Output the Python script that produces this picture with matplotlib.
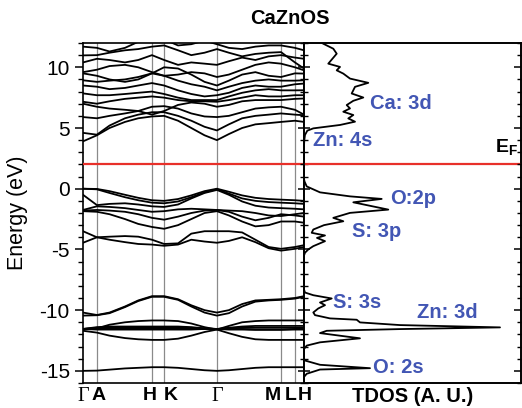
import matplotlib
matplotlib.use("Agg")
import matplotlib.pyplot as plt
import matplotlib.transforms as mtransforms
from matplotlib.ticker import MultipleLocator

plt.rcParams["font.family"] = ["Liberation Sans", "DejaVu Sans"]
plt.rcParams["axes.unicode_minus"] = False
plt.rcParams["mathtext.fontset"] = "custom"
plt.rcParams["mathtext.bf"] = "Liberation Sans:bold"
plt.rcParams["mathtext.rm"] = "Liberation Sans"

# ---------------- data ----------------
kpath = [0, 0.063, 0.12, 0.19, 0.25, 0.312, 0.367, 0.43, 0.49, 0.55,
         0.606, 0.66, 0.72, 0.78, 0.84, 0.896, 0.959, 1.0]
sym_pos = [0, 0.063, 0.312, 0.367, 0.606, 0.896, 0.959, 1.0]
sym_labels = ["Γ", "A", "H", "K", "Γ", "M", "L", "H"]

valence_bands = [
    [0.0, -0.02, -0.2, -0.5, -0.75, -0.95, -1.0, -0.85, -0.55, -0.2, 0.0, -0.25, -0.55, -0.75, -0.85, -0.9, -0.95, -1.0],
    [0.0, -0.05, -0.35, -0.7, -0.95, -1.15, -1.2, -1.05, -0.7, -0.3, -0.05, -0.4, -0.8, -1.0, -1.1, -1.15, -1.2, -1.25],
    [-0.5, -1.35, -1.25, -1.2, -1.3, -1.45, -1.5, -1.3, -0.8, -0.35, -0.1, -0.5, -1.05, -1.4, -1.55, -1.6, -1.65, -1.7],
    [-1.75, -1.45, -1.5, -1.6, -1.75, -1.9, -1.85, -1.7, -1.65, -1.7, -1.75, -1.8, -1.85, -2.0, -2.2, -2.25, -2.1, -2.0],
    [-1.8, -1.75, -1.8, -1.9, -2.1, -2.4, -2.55, -2.3, -2.0, -1.8, -1.75, -1.9, -2.3, -2.6, -2.4, -2.1, -2.2, -2.3],
    [-1.85, -1.9, -2.1, -2.5, -2.9, -3.15, -3.3, -3.0, -2.5, -2.0, -1.85, -2.2, -2.7, -3.1, -3.0, -2.7, -2.7, -2.8],
    [-3.5, -4.0, -3.95, -3.9, -3.95, -4.2, -4.55, -4.5, -3.7, -3.5, -3.5, -3.5, -3.6, -4.2, -4.8, -4.95, -4.8, -4.65],
    [-4.45, -4.0, -4.2, -4.4, -4.55, -4.6, -4.7, -4.6, -4.2, -4.35, -4.45, -4.3, -4.0, -4.4, -4.9, -5.1, -4.95, -4.8],
]

conduction_bands = [
    [3.9, 4.4, 5.0, 5.5, 5.8, 5.95, 6.0, 5.6, 5.0, 4.4, 4.0, 4.5, 5.0, 5.3, 5.4, 5.5, 5.6, 5.5],
    [4.6, 4.45, 5.2, 5.8, 6.1, 6.3, 6.3, 6.0, 5.6, 5.1, 4.8, 5.3, 5.8, 6.0, 6.1, 6.2, 6.1, 6.05],
    [5.9, 5.8, 6.0, 6.2, 6.4, 6.75, 6.8, 6.6, 6.2, 5.95, 5.9, 6.0, 6.3, 6.6, 6.7, 6.75, 6.5, 6.1],
    [7.0, 6.75, 6.6, 6.5, 6.4, 6.1, 6.4, 6.9, 7.1, 7.0, 6.75, 6.9, 7.2, 7.3, 7.3, 7.3, 7.4, 7.43],
    [7.16, 7.0, 7.2, 7.4, 7.5, 7.6, 7.5, 7.3, 7.2, 7.2, 7.16, 7.3, 7.5, 7.7, 7.6, 7.6, 7.7, 7.7],
    [7.85, 7.7, 7.7, 7.8, 7.9, 8.0, 7.8, 7.5, 7.3, 7.3, 7.3, 7.6, 7.9, 8.1, 8.2, 8.1, 8.1, 8.11],
    [8.5, 8.4, 8.2, 8.3, 8.5, 8.7, 8.5, 8.1, 7.8, 7.6, 7.7, 7.9, 8.3, 8.5, 8.4, 8.4, 8.6, 8.66],
    [8.93, 8.8, 8.9, 9.0, 9.2, 9.5, 9.3, 8.9, 8.6, 8.4, 8.1, 8.4, 8.7, 8.9, 9.0, 8.9, 8.9, 8.93],
    [9.5, 9.3, 9.0, 8.8, 9.0, 9.5, 10.0, 9.9, 9.4, 8.8, 8.5, 8.9, 9.4, 9.6, 9.3, 9.2, 9.5, 9.48],
    [9.6, 9.8, 10.1, 10.2, 10.0, 9.6, 9.3, 9.4, 9.6, 9.5, 9.2, 9.4, 9.8, 10.2, 10.4, 10.3, 10.0, 9.75],
    [10.4, 10.7, 10.6, 10.4, 10.6, 11.0, 10.6, 10.2, 10.4, 10.3, 10.2, 10.5, 10.8, 10.6, 10.9, 11.0, 10.8, 10.7],
    [10.98, 11.0, 11.2, 11.4, 11.5, 11.7, 11.8, 11.4, 11.0, 11.2, 11.5, 11.2, 10.9, 11.1, 11.2, 11.25, 10.4, 9.9],
    [11.7, 11.6, 11.3, 11.6, 12.1, 12.5, 12.3, 11.8, 11.9, 12.2, 11.9, 11.6, 11.5, 11.7, 11.8, 11.8, 11.6, 11.4],
]

lower_bands = [
    [-10.2, -10.4, -10.2, -9.7, -9.2, -8.85, -8.85, -9.1, -9.6, -10.0, -10.2, -10.0, -9.5, -9.2, -9.15, -9.1, -9.0, -8.85],
    [-10.45, -10.42, -10.25, -9.75, -9.25, -8.9, -8.9, -9.15, -9.7, -10.2, -10.45, -10.25, -9.7, -9.3, -9.2, -9.15, -9.05, -8.9],
    [-11.6, -11.5, -11.2, -11.0, -10.9, -10.85, -10.85, -10.9, -11.1, -11.4, -11.6, -11.3, -11.0, -10.9, -10.85, -10.85, -10.85, -10.85],
    [-11.7, -11.85, -12.1, -12.3, -12.4, -12.45, -12.45, -12.35, -12.1, -11.8, -11.6, -11.9, -12.2, -12.4, -12.45, -12.45, -12.45, -12.45],
    [-11.55, -11.4, -11.35, -11.35, -11.35, -11.35, -11.35, -11.35, -11.4, -11.5, -11.55, -11.45, -11.35, -11.3, -11.3, -11.3, -11.3, -11.3],
    [-11.55, -11.45, -11.45, -11.45, -11.45, -11.45, -11.45, -11.45, -11.45, -11.5, -11.55, -11.5, -11.45, -11.45, -11.45, -11.45, -11.45, -11.45],
    [-11.55, -11.5, -11.5, -11.5, -11.5, -11.5, -11.5, -11.5, -11.5, -11.55, -11.55, -11.55, -11.55, -11.6, -11.6, -11.6, -11.55, -11.5],
    [-11.55, -11.6, -11.6, -11.6, -11.6, -11.6, -11.6, -11.6, -11.6, -11.55, -11.55, -11.6, -11.6, -11.62, -11.62, -11.62, -11.6, -11.6],
    [-15.0, -14.98, -14.9, -14.8, -14.75, -14.7, -14.7, -14.75, -14.85, -14.95, -15.0, -14.95, -14.85, -14.75, -14.7, -14.7, -14.7, -14.7],
]

fermi_level = 2.0

tdos_energy = [12.0, 11.94, 11.53, 11.12, 10.3, 10.03, 9.75, 9.48, 9.07, 8.72, 8.39, 7.84, 7.51, 7.24,
               6.89, 6.61, 6.34, 6.07, 5.79, 5.52, 5.25, 4.97, 4.78, 4.43, 4.0, 3.5, 0.8, 0.6, 0.19,
               -0.3, -0.63, -0.84, -1.12, -1.72, -1.99, -2.4, -2.68, -3.0, -3.36, -3.63, -3.85, -4.05,
               -4.32, -4.73, -5.0, -5.27, -5.5, -8.3, -8.55, -8.77, -9.04, -9.37, -9.59, -9.86, -10.19,
               -10.41, -10.68, -10.79, -11.01, -11.23, -11.42, -11.56, -11.7, -11.89, -12.32, -12.65,
               -12.92, -13.2, -14.0, -14.15, -14.5, -14.78, -14.89, -15.24, -15.5, -16.0]
tdos_value = [18, 19.3, 29.3, 32.7, 24.3, 36, 32.7, 39.3, 46, 64.3, 51, 47.7, 59.3, 49.3,
              42.7, 46, 39.3, 49.3, 44.3, 51, 36, 9.3, 3.3, 1, 0.3, 0, 0, 0.5, 2.7,
              16, 46, 77.7, 49.3, 84.3, 46, 29.3, 39.3, 20, 9.3, 7.7, 21, 13,
              21, 9.3, 4.3, 1, 0, 0, 1, 9.3, 27.7, 16, 21, 14.3, 9.3,
              11, 26, 52.7, 56, 96, 196, 96, 22.7, 16, 56, 16,
              2.7, 0, 0, 1, 16, 66, 16, 2.7, 0, 0]

annotations = [("Ca: 3d", 66, 7.05), ("Zn: 4s", 9, 4.0), ("O:2p", 86, -0.8), ("S: 3p", 48, -3.5),
               ("S: 3s", 29, -9.35), ("Zn: 3d", 113, -10.2), ("O: 2s", 69, -14.75)]

# ---------------- figure ----------------
W, H = 522, 408
fig = plt.figure(figsize=(W / 100, H / 100), dpi=100)
x0, x1, x2 = 83, 304, 521
ytop, ybot = 43, 383
ax = fig.add_axes([x0 / W, 1 - ybot / H, (x1 - x0) / W, (ybot - ytop) / H])
ax2 = fig.add_axes([x1 / W, 1 - ybot / H, (x2 - x1) / W, (ybot - ytop) / H])

blue = "#4256b4"
for xv in sym_pos[1:-1]:
    ax.axvline(xv, color="#8a8a8a", lw=0.9, zorder=1)

for band in valence_bands + conduction_bands + lower_bands:
    ax.plot(kpath, band, color="black", lw=1.3, solid_joinstyle="round", zorder=2)

ax.axhline(fermi_level, color="#e8302a", lw=1.6, zorder=3)
ax2.axhline(fermi_level, color="#e8302a", lw=1.6, zorder=3)

ax.set_xlim(0, 1)
ax.set_ylim(-16, 12)
ax.yaxis.set_major_locator(MultipleLocator(5))
ax.yaxis.set_minor_locator(MultipleLocator(1))
ax.tick_params(axis="y", which="major", direction="out", length=6, width=1.1, labelsize=15, right=False)
ax.tick_params(axis="y", which="minor", direction="out", length=3.5, width=1.0, right=False)
ax.set_xticks(sym_pos)
ax.set_xticklabels(sym_labels)
ax.tick_params(axis="x", length=0, pad=3)
offsets = [0, 2, -2, 7, 0, -8, -4, 1]
for lab, off, name in zip(ax.get_xticklabels(), offsets, sym_labels):
    if name == "Γ":
        lab.set_fontfamily(["Liberation Serif", "DejaVu Serif"])
        lab.set_fontsize(14.5)
    else:
        lab.set_fontweight("bold")
        lab.set_fontsize(14)
    lab.set_transform(lab.get_transform() + mtransforms.ScaledTranslation(off / 100, 0, fig.dpi_scale_trans))

ax.set_ylabel("Energy (eV)", fontsize=15.5)
ax.yaxis.set_label_coords(-0.25, 0.5)

ax2.plot(tdos_value, tdos_energy, color="black", lw=1.3, zorder=2)
ax2.set_xlim(0, 217)
ax2.set_ylim(-16, 12)
ax2.set_xticks([])
ax2.yaxis.set_major_locator(MultipleLocator(5))
ax2.yaxis.set_minor_locator(MultipleLocator(1))
ax2.tick_params(axis="y", which="major", direction="inout", length=8, width=1.1, left=True, right=False, labelleft=False)
ax2.tick_params(axis="y", which="minor", direction="inout", length=6, width=1.0, left=True, right=False)
ax2.set_xlabel("TDOS (A. U.)", fontsize=14.5, fontweight="bold", labelpad=3)

# right-side inward ticks on TDOS panel
ax3 = ax2.twinx()
ax3.set_ylim(-16, 12)
ax3.yaxis.set_major_locator(MultipleLocator(5))
ax3.yaxis.set_minor_locator(MultipleLocator(1))
ax3.tick_params(axis="y", which="major", direction="in", length=5, width=1.1, labelright=False)
ax3.tick_params(axis="y", which="minor", direction="in", length=3, width=1.0)

for a in (ax, ax2, ax3):
    for s in a.spines.values():
        s.set_linewidth(1.2)

for txt, xv, yv in annotations:
    ax2.text(xv, yv, txt, color=blue, fontsize=14.5, fontweight="bold", ha="left", va="center")
ax2.text(191, 3.45, r"$\mathbf{E_F}$", fontsize=14, ha="left", va="center", color="black")

fig.text(290 / W, 1 - 18 / H, "CaZnOS", fontsize=14.5, fontweight="bold", ha="center", va="center")

fig.savefig("out.png", dpi=100)
